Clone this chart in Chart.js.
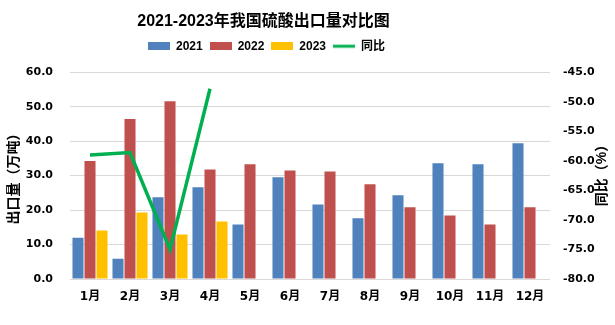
<!DOCTYPE html>
<html>
<head>
<meta charset="utf-8">
<script src="https://cdn.jsdelivr.net/npm/chart.js@4/dist/chart.umd.min.js"></script>
<style>
  html, body { margin: 0; padding: 0; background: #fff; }
  #wrap { width: 615px; height: 325px; }
</style>
</head>
<body>
<div id="wrap"><canvas id="myChart" width="615" height="325"></canvas></div>
<script>
// donnees
const mois = ['1月', '2月', '3月', '4月', '5月', '6月', '7月', '8月', '9月', '10月', '11月', '12月'];
const export2021 = [12.0, 5.9, 23.7, 26.6, 15.8, 29.5, 21.6, 17.6, 24.3, 33.6, 33.3, 39.4];
const export2022 = [34.2, 46.4, 51.6, 31.8, 33.3, 31.5, 31.2, 27.5, 20.8, 18.4, 15.8, 20.8];
const export2023 = [14.1, 19.3, 12.9, 16.7, null, null, null, null, null, null, null, null];
const tongbi = [-59.0, -58.6, -75.0, -47.8, null, null, null, null, null, null, null, null];

const numFont = "'DejaVu Sans', 'Noto Sans CJK SC', sans-serif";
const cjkFont = "'Liberation Sans', 'Noto Sans CJK SC', sans-serif";

// petites images pour la legende
function legendBox(color, isLine) {
    const c = document.createElement('canvas');
    c.width = 22;
    c.height = 8;
    const g = c.getContext('2d');
    g.fillStyle = color;
    if (isLine) {
        g.fillRect(0, 2.5, 22, 3);
    } else {
        g.fillRect(0, 0, 22, 8);
    }
    return c;
}

// titre de l'axe droit + decalage titre/legende
const extras = {
    id: 'extras',
    afterUpdate(chart) {
        const shiftX = -44;
        if (chart.titleBlock) {
            chart.titleBlock.left += shiftX;
            chart.titleBlock.right += shiftX;
            chart.titleBlock.top -= 1;
            chart.titleBlock.bottom -= 1;
        }
        if (chart.legend) {
            chart.legend.left += shiftX + 3;
            chart.legend.right += shiftX + 3;
            chart.legend.top -= 10;
            chart.legend.bottom -= 10;
        }
    },
    afterDraw(chart) {
        const ctx = chart.ctx;
        ctx.save();
        ctx.translate(602, 172);
        ctx.rotate(-Math.PI / 2);
        ctx.font = "bold 14px " + cjkFont;
        ctx.fillStyle = '#000';
        ctx.textAlign = 'center';
        ctx.textBaseline = 'middle';
        ctx.fillText('同比（%）', 0, 0);
        ctx.restore();
    }
};

const ctx = document.getElementById('myChart').getContext('2d');
const myChart = new Chart(ctx, {
    type: 'bar',
    data: {
        labels: mois,
        datasets: [
            { label: '2021', data: export2021, backgroundColor: '#4F81BD', yAxisID: 'y', order: 1,
              pointStyle: legendBox('#4F81BD', false) },
            { label: '2022', data: export2022, backgroundColor: '#C0504D', yAxisID: 'y', order: 1,
              pointStyle: legendBox('#C0504D', false) },
            { label: '2023', data: export2023, backgroundColor: '#FFC000', yAxisID: 'y', order: 1,
              pointStyle: legendBox('#FFC000', false) },
            { type: 'line', label: '同比', data: tongbi, yAxisID: 'y1', order: 0,
              borderColor: '#00B050', backgroundColor: '#00B050', borderWidth: 3.5,
              pointRadius: 0, tension: 0, spanGaps: false,
              pointStyle: legendBox('#00B050', true) }
        ]
    },
    options: {
        responsive: false,
        animation: false,
        devicePixelRatio: 1,
        categoryPercentage: 0.9,
        barPercentage: 0.92,
        layout: { padding: 0 },
        plugins: {
            title: {
                display: true,
                text: '2021-2023年我国硫酸出口量对比图',
                color: '#000',
                font: { family: cjkFont, size: 16, weight: 'bold' },
                padding: { top: 13, bottom: 11 }
            },
            legend: {
                display: true,
                position: 'top',
                labels: {
                    sort: (a, b) => a.datasetIndex - b.datasetIndex,
                    usePointStyle: true,
                    pointStyleWidth: 22,
                    boxHeight: 8,
                    padding: 7,
                    color: '#000',
                    font: { family: cjkFont, size: 12, weight: 'bold' }
                }
            },
            tooltip: { enabled: false }
        },
        scales: {
            x: {
                grid: { display: false, drawTicks: false },
                border: { display: false },
                ticks: {
                    color: '#000',
                    padding: 11,
                    maxRotation: 0,
                    autoSkip: false,
                    font: { family: numFont, size: 12, weight: 'bold' }
                },
                afterFit(scale) { scale.height = 46; }
            },
            y: {
                position: 'left',
                min: 0,
                max: 60,
                grid: { color: '#D9D9D9', lineWidth: 1, drawTicks: false },
                border: { display: false },
                ticks: {
                    stepSize: 10,
                    color: '#000',
                    padding: 17,
                    font: { family: numFont, size: 11, weight: 'bold' },
                    callback: (v) => v.toFixed(1)
                },
                title: {
                    display: true,
                    text: '出口量（万吨）',
                    color: '#000',
                    font: { family: cjkFont, size: 14, weight: 'bold' },
                    padding: { top: 6, bottom: 0 }
                },
                afterFit(scale) { scale.width = 70; }
            },
            y1: {
                position: 'right',
                min: -80,
                max: -45,
                grid: { display: false, drawTicks: false },
                border: { display: false },
                ticks: {
                    stepSize: 5,
                    color: '#000',
                    padding: 13,
                    font: { family: numFont, size: 11, weight: 'bold' },
                    callback: (v) => v.toFixed(1)
                },
                afterFit(scale) { scale.width = 65; }
            }
        }
    },
    plugins: [extras]
});
</script>
</body>
</html>
